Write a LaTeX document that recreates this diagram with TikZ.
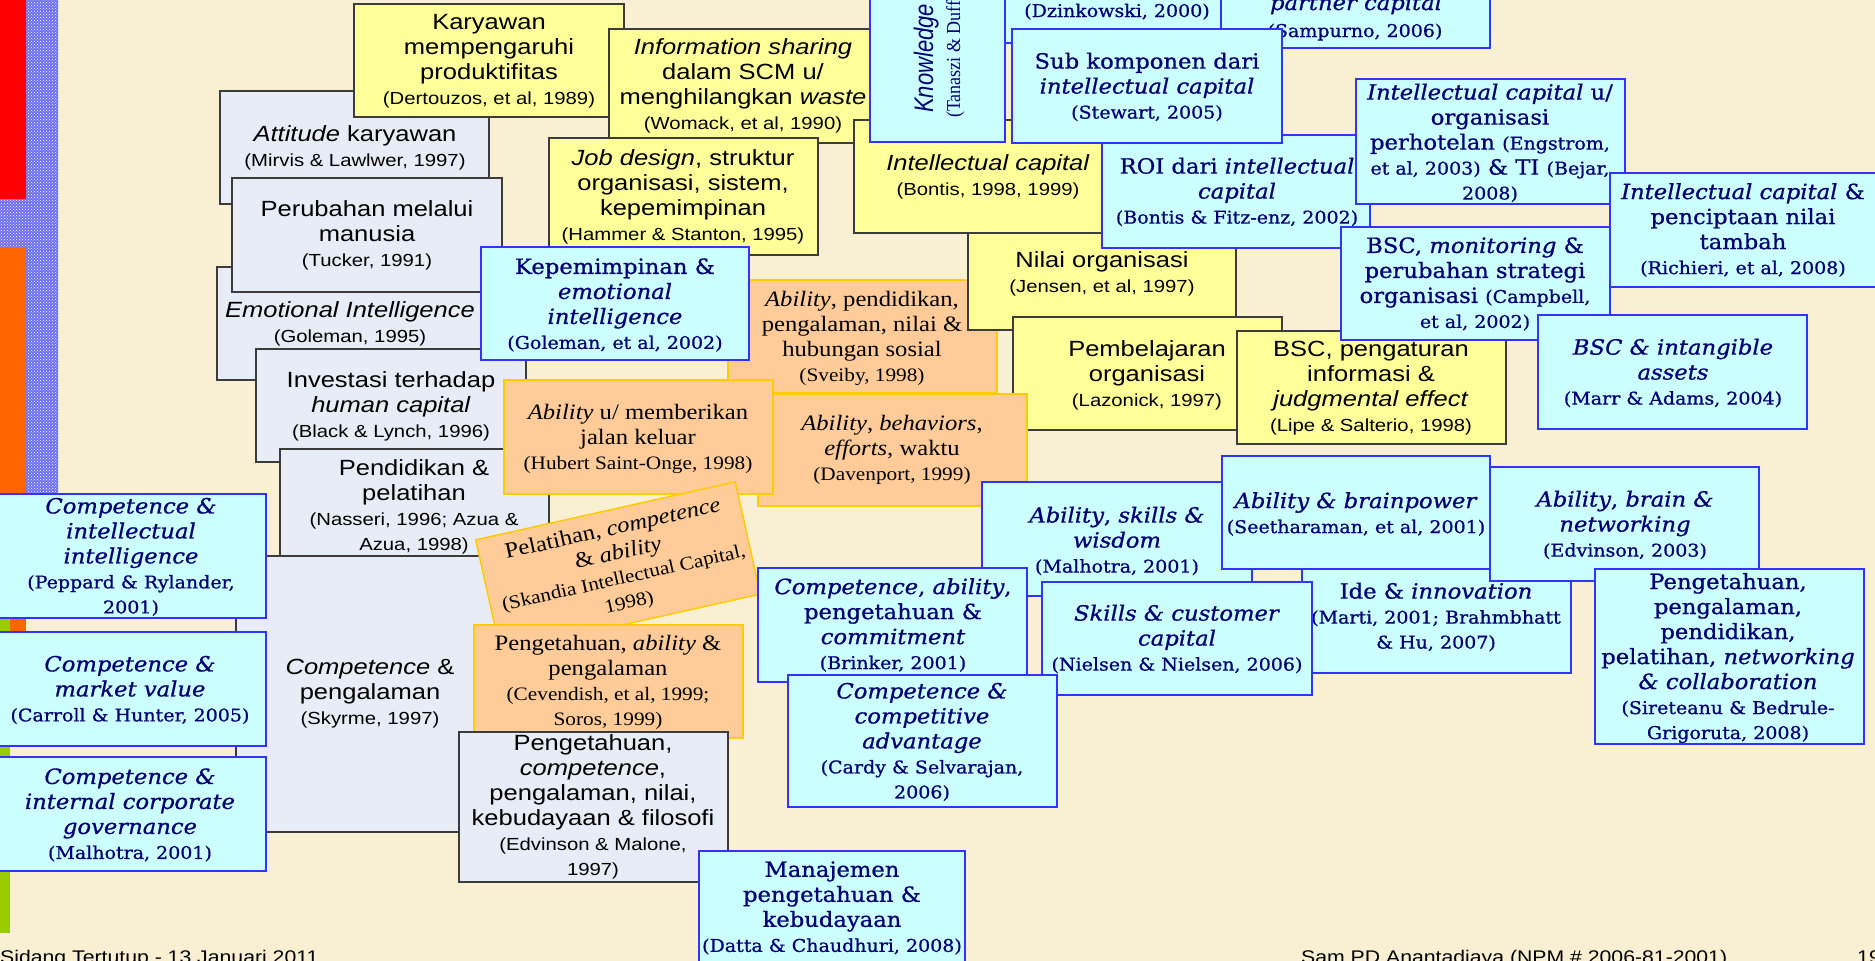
\documentclass[tikz,border=0pt]{standalone}
\usepackage{fontspec}
\usepackage{graphicx}
\usetikzlibrary{fit,patterns}

% Typefaces
\newfontfamily\arialf[FakeStretch=1.16]{Liberation Sans}
\newfontfamily\arialplain{Liberation Sans}
\newfontfamily\timesf[FakeStretch=1.12]{Liberation Serif}
\newfontfamily\timesplain{Liberation Serif}
\newfontfamily\slabf[FakeStretch=1.08,FakeBold=0.8]{DejaVu Serif}

% Colours
\definecolor{bgc}{RGB}{249,239,210}
\definecolor{ylw}{RGB}{255,255,153}
\definecolor{gry}{RGB}{231,236,247}
\definecolor{cyn}{RGB}{204,255,255}
\definecolor{org}{RGB}{255,204,153}
\definecolor{cynline}{RGB}{51,51,255}
\definecolor{orgline}{RGB}{255,204,0}
\definecolor{navy}{RGB}{0,0,115}
\definecolor{boxline}{RGB}{60,60,60}
\definecolor{barred}{RGB}{255,0,0}
\definecolor{barorange}{RGB}{255,102,0}
\definecolor{bargreen}{RGB}{153,204,0}
\definecolor{checker}{RGB}{110,110,240}

% Text sizes
\newcommand\ysz{\arialf\fontsize{22}{25}\selectfont}
\newcommand\ycs{\fontsize{17.5}{25}\selectfont}
\newcommand\osz{\timesf\fontsize{22}{25}\selectfont}
\newcommand\ocs{\fontsize{19}{25}\selectfont}
\newcommand\csz{\slabf\fontsize{21}{25}\selectfont}
\newcommand\ccs{\fontsize{17.6}{25}\selectfont}

\tikzset{
  ybox/.style={draw=boxline, fill=ylw, line width=1.5pt, inner sep=0pt},
  gbox/.style={draw=boxline, fill=gry, line width=1.5pt, inner sep=0pt},
  cbox/.style={draw=cynline, fill=cyn, line width=2pt, inner sep=0pt},
  obox/.style={draw=orgline, fill=org, line width=1.5pt, inner sep=0pt},
  ytxt/.style={align=center, font=\ysz, text=black, inner sep=0pt},
  otxt/.style={align=center, font=\osz, text=black, inner sep=0pt},
  ctxt/.style={align=center, font=\csz, text=navy, inner sep=0pt},
}

% box style, text style, name, corner, corner, text centre, text
\newcommand\card[7]{%
  \node[#1, fit={#4 #5}] (#3) {};
  \node[#2] (#3-t) at #6 {#7};
}

\begin{document}
\begin{tikzpicture}[x=1pt,y=-1pt]
\path[use as bounding box] (0,0) rectangle (1875,961);
\clip (0,0) rectangle (1875,961);
\fill[bgc] (0,0) rectangle (1875,961);

% side bars
\fill[checker] (26,0) rectangle (58,493) (0,199) rectangle (26,247);
\fill[pattern=crosshatch dots, pattern color=white] (26,0) rectangle (58,493) (0,199) rectangle (26,247);
\fill[barred] (0,0) rectangle (26,199);
\fill[barorange] (0,247) rectangle (26,632);
\fill[bargreen] (0,618) rectangle (10,933);

% cards, back to front
\card{gbox}{ytxt}{att}{(220,91)}{(489,204)}{(355,148)}{\emph{Attitude} karyawan\\ \ycs (Mirvis \& Lawlwer, 1997)}
\card{ybox}{ytxt}{kar}{(354,4)}{(624,117)}{(489,61)}{Karyawan\\ mempengaruhi\\ produktifitas\\ \ycs (Dertouzos, et al, 1989)}
\card{ybox}{ytxt}{info}{(609,29)}{(877,143)}{(743,86)}{\emph{Information sharing}\\ dalam SCM u/\\ menghilangkan \emph{waste}\\ \ycs (Womack, et al, 1990)}
\card{gbox}{ytxt}{emo}{(217,267)}{(486,380)}{(350,324)}{\emph{Emotional Intelligence}\\ \ycs (Goleman, 1995)}
\card{gbox}{ytxt}{perub}{(232,178)}{(502,292)}{(367,235)}{Perubahan melalui\\ manusia\\ \ycs (Tucker, 1991)}
\card{gbox}{ytxt}{inv}{(256,349)}{(526,462)}{(391,406)}{Investasi terhadap\\ \emph{human capital}\\ \ycs (Black \& Lynch, 1996)}
\card{gbox}{ytxt}{pend}{(280,449)}{(549,557)}{(414,507)}{Pendidikan \&\\ pelatihan\\ \ycs (Nasseri, 1996; Azua \&\\ \ycs Azua, 1998)}
\card{gbox}{ytxt}{comp}{(236,556)}{(505,832)}{(370,694)}{\emph{Competence} \&\\ pengalaman\\ \ycs (Skyrme, 1997)}
\card{ybox}{ytxt}{job}{(549,138)}{(818,255)}{(683,197)}{\emph{Job design}, struktur\\ organisasi, sistem,\\ kepemimpinan\\ \ycs (Hammer \& Stanton, 1995)}
\card{ybox}{ytxt}{bontis}{(854,120)}{(1122,233)}{(988,177)}{\emph{Intellectual capital}\\ \ycs (Bontis, 1998, 1999)}

% rotated-label card at the top edge
\node[cbox, fit={(870,-10) (1005,142)}] (know) {};
\node[rotate=90, anchor=base west, font=\arialplain\itshape\fontsize{22}{25}\selectfont, text=navy, inner sep=0pt] (know-a) at (933,113) {\scalebox{1}[1.22]{Knowledge}};
\node[rotate=90, anchor=base west, font=\timesplain\fontsize{18}{22}\selectfont, text=navy, inner sep=0pt] (know-b) at (960,118) {\scalebox{1}[1.1]{(Tanaszi \& Duff}};

\node[cbox, fit={(1005,-10) (1229,43)}] (dzin) {};
\node[font=\csz\ccs, text=navy, anchor=base, inner sep=0pt] (dzin-t) at (1117,17) {(Dzinkowski, 2000)};
\node[cbox, fit={(1221,-10) (1490,48)}] (samp) {};
\node[font=\csz\itshape, text=navy, anchor=base, inner sep=0pt] (samp-a) at (1356,10) {partner capital};
\node[font=\csz\ccs, text=navy, anchor=base, inner sep=0pt] (samp-b) at (1355,37) {(Sampurno, 2006)};

\card{obox}{otxt}{sveiby}{(728,280)}{(997,393)}{(862,338)}{\emph{Ability}, pendidikan,\\ pengalaman, nilai \&\\ hubungan sosial\\ \ocs (Sveiby, 1998)}
\card{ybox}{ytxt}{nilai}{(968,233)}{(1236,330)}{(1102,274)}{Nilai organisasi\\ \ycs (Jensen, et al, 1997)}
\card{ybox}{ytxt}{belajar}{(1013,317)}{(1282,430)}{(1147,375)}{Pembelajaran\\ organisasi\\ \ycs (Lazonick, 1997)}
\card{ybox}{ytxt}{bscinfo}{(1237,331)}{(1506,444)}{(1371,388)}{BSC, pengaturan\\ informasi \&\\ \emph{judgmental effect}\\ \ycs (Lipe \& Salterio, 1998)}
\card{cbox}{ctxt}{roi}{(1102,135)}{(1370,248)}{(1237,192)}{ROI dari \emph{intellectual}\\ \emph{capital}\\ \ccs (Bontis \& Fitz-enz, 2002)}
\card{cbox}{ctxt}{bscmon}{(1341,227)}{(1610,340)}{(1475,284)}{BSC, \emph{monitoring} \&\\ perubahan strategi\\ organisasi {\ccs (Campbell,}\\ \ccs et al, 2002)}
\card{cbox}{ctxt}{sub}{(1012,29)}{(1282,143)}{(1147,87)}{Sub komponen dari\\ \emph{intellectual capital}\\ \ccs (Stewart, 2005)}
\card{cbox}{ctxt}{hotel}{(1356,79)}{(1625,204)}{(1490,143)}{\emph{Intellectual capital} u/\\ organisasi\\ perhotelan {\ccs (Engstrom,}\\ {\ccs et al, 2003)} \& TI {\ccs (Bejar,}\\ \ccs 2008)}
\card{cbox}{ctxt}{richieri}{(1610,173)}{(1880,287)}{(1743,230)}{\emph{Intellectual capital} \&\\ penciptaan nilai\\ tambah\\ \ccs (Richieri, et al, 2008)}
\card{cbox}{ctxt}{intang}{(1538,315)}{(1807,429)}{(1673,373)}{\emph{BSC \& intangible}\\ \emph{assets}\\ \ccs (Marr \& Adams, 2004)}
\card{cbox}{ctxt}{kep}{(481,247)}{(749,360)}{(615,305)}{Kepemimpinan \&\\ \emph{emotional}\\ \emph{intelligence}\\ \ccs (Goleman, et al, 2002)}
\card{obox}{otxt}{daven}{(758,394)}{(1027,506)}{(892,450)}{\emph{Ability}, \emph{behaviors},\\ \emph{efforts}, waktu\\ \ocs (Davenport, 1999)}
\card{obox}{otxt}{hubert}{(504,380)}{(773,494)}{(638,439)}{\emph{Ability} u/ memberikan\\ jalan keluar\\ \ocs (Hubert Saint-Onge, 1998)}

% tilted card
\node[obox, rotate=12.6, minimum width=266pt, minimum height=115pt] (pelat) at (618,567) {};
\node[otxt, rotate=12.6] (pelat-t) at (621,566) {Pelatihan, \emph{competence}\\ \& \emph{ability}\\ \ocs (Skandia Intellectual Capital,\\ \ocs 1998)};

\card{obox}{otxt}{pengab}{(474,625)}{(743,738)}{(608,682)}{Pengetahuan, \emph{ability} \&\\ pengalaman\\ \ocs (Cevendish, et al, 1999;\\ \ocs Soros, 1999)}
\card{gbox}{ytxt}{pengcomp}{(459,732)}{(728,882)}{(593,807)}{Pengetahuan,\\ \emph{competence},\\ pengalaman, nilai,\\ kebudayaan \& filosofi\\ \ycs (Edvinson \& Malone,\\ \ycs 1997)}
\card{cbox}{ctxt}{manaj}{(699,851)}{(965,968)}{(832,908)}{Manajemen\\ pengetahuan \&\\ kebudayaan\\ \ccs (Datta \& Chaudhuri, 2008)}
\card{cbox}{ctxt}{skillwis}{(982,482)}{(1252,596)}{(1117,541)}{\emph{Ability}, \emph{skills \&}\\ \emph{wisdom}\\ \ccs (Malhotra, 2001)}
\card{cbox}{ctxt}{ide}{(1302,565)}{(1571,673)}{(1436,617)}{Ide \& \emph{innovation}\\ \ccs (Marti, 2001; Brahmbhatt\\ \ccs \& Hu, 2007)}
\card{cbox}{ctxt}{brainp}{(1222,456)}{(1490,569)}{(1356,514)}{\emph{Ability \& brainpower}\\ \ccs (Seetharaman, et al, 2001)}
\card{cbox}{ctxt}{netw}{(1490,467)}{(1759,581)}{(1625,525)}{\emph{Ability}, \emph{brain \&}\\ \emph{networking}\\ \ccs (Edvinson, 2003)}
\card{cbox}{ctxt}{pengbig}{(1595,569)}{(1864,744)}{(1728,658)}{Pengetahuan,\\ pengalaman,\\ pendidikan,\\ pelatihan, \emph{networking}\\ \emph{\& collaboration}\\ \ccs (Sireteanu \& Bedrule-\\ \ccs Grigoruta, 2008)}
\card{cbox}{ctxt}{skillcust}{(1042,582)}{(1312,695)}{(1177,639)}{\emph{Skills \& customer}\\ \emph{capital}\\ \ccs (Nielsen \& Nielsen, 2006)}
\card{cbox}{ctxt}{brinker}{(758,568)}{(1027,682)}{(893,625)}{\emph{Competence}, \emph{ability},\\ pengetahuan \&\\ \emph{commitment}\\ \ccs (Brinker, 2001)}
\card{cbox}{ctxt}{cardy}{(788,675)}{(1057,807)}{(922,742)}{\emph{Competence \&}\\ \emph{competitive}\\ \emph{advantage}\\ \ccs (Cardy \& Selvarajan,\\ \ccs 2006)}
\card{cbox}{ctxt}{cii}{(-5,494)}{(266,618)}{(131,557)}{\emph{Competence \&}\\ \emph{intellectual}\\ \emph{intelligence}\\ \ccs (Peppard \& Rylander,\\ \ccs 2001)}
\card{cbox}{ctxt}{cmv}{(-5,632)}{(266,746)}{(130,690)}{\emph{Competence \&}\\ \emph{market value}\\ \ccs (Carroll \& Hunter, 2005)}
\card{cbox}{ctxt}{cicg}{(-5,757)}{(266,871)}{(130,815)}{\emph{Competence \&}\\ \emph{internal corporate}\\ \emph{governance}\\ \ccs (Malhotra, 2001)}

% footer
\node[font=\arialf\fontsize{18.3}{22}\selectfont, anchor=base west, inner sep=0pt] (foot-l) at (0,963) {Sidang Tertutup - 13 Januari 2011};
\node[font=\arialf\fontsize{18.3}{22}\selectfont, anchor=base west, inner sep=0pt] (foot-r) at (1301,963) {Sam PD Anantadjaya (NPM \# 2006-81-2001)};
\node[font=\arialf\fontsize{18.3}{22}\selectfont, anchor=base west, inner sep=0pt] (foot-n) at (1857,963) {19};
\end{tikzpicture}
\end{document}
